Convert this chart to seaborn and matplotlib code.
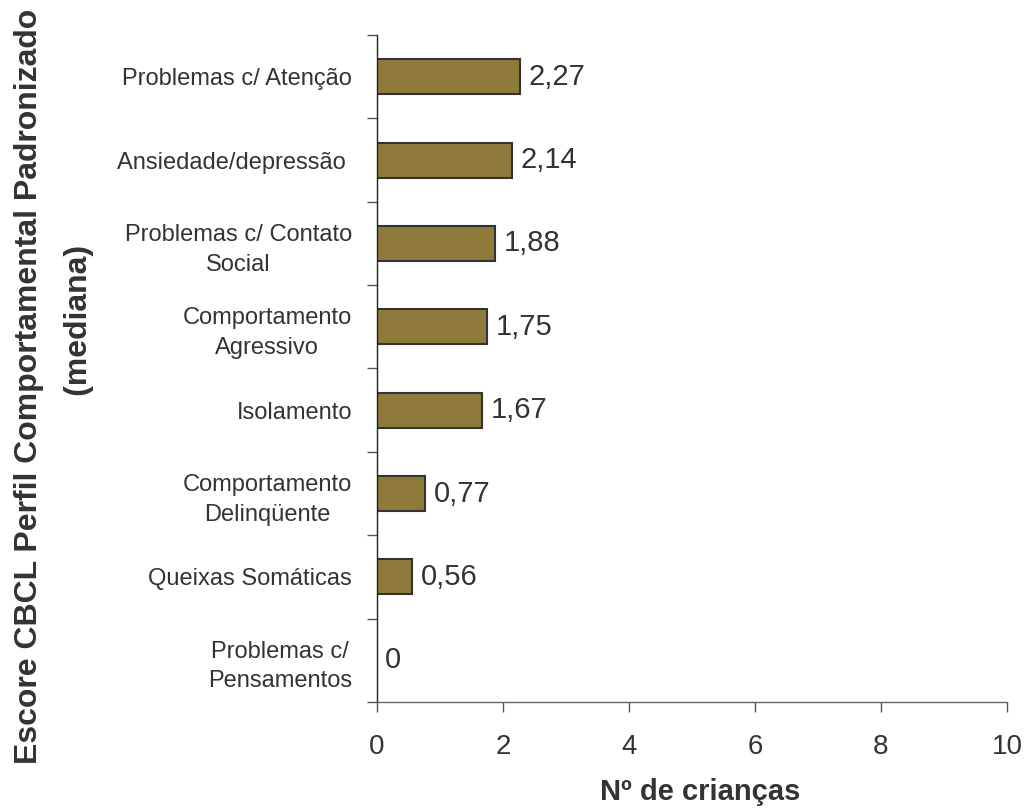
import matplotlib
matplotlib.use("Agg")
import matplotlib.pyplot as plt
import seaborn as sns
import pandas as pd
from matplotlib.ticker import FixedLocator

categorias = [
    "Problemas c/ Atenção",
    "Ansiedade/depressão ",
    "Problemas c/ Contato\nSocial",
    "Comportamento\nAgressivo",
    "Isolamento",
    "Comportamento\nDelinqüente",
    "Queixas Somáticas",
    "Problemas c/\nPensamentos",
]
valores = [2.27, 2.14, 1.88, 1.75, 1.67, 0.77, 0.56, 0]
xticks = [0, 2, 4, 6, 8, 10]
rotulos = ["2,27", "2,14", "1,88", "1,75", "1,67", "0,77", "0,56", "0"]

sns.set_theme(style="ticks")
plt.rcParams['font.family'] = ['Liberation Sans', 'DejaVu Sans']
txt = "#333333"

fig = plt.figure(figsize=(10.27, 8.08), dpi=100)
ax = fig.add_axes([0.367, 0.1312, 0.6135, 0.8255])

df = pd.DataFrame({"categoria": categorias, "valor": valores})
sns.barplot(data=df, x="valor", y="categoria", orient="h", color="#8E7B3B",
            saturation=1, edgecolor="#333333", linewidth=1.5, width=0.42, ax=ax)

ax.bar_label(ax.containers[0], labels=rotulos, padding=6, fontsize=21, color=txt)

ax.set_xlim(0, 10)
ax.set_xticks(xticks)
ax.set_xticklabels([str(t) for t in xticks])
ax.set_ylim(len(categorias) - 0.5, -0.5)
ax.yaxis.set_minor_locator(FixedLocator([i - 0.5 for i in range(len(categorias) + 1)]))
ax.tick_params(axis="y", which="major", length=0, pad=18, labelsize=17, labelcolor=txt)
ax.tick_params(axis="y", which="minor", length=7, width=1, color="#555555", direction="out")
ax.tick_params(axis="x", which="major", length=7, width=1, color="#555555", pad=16,
               labelsize=20, labelcolor=txt)
for lab in ax.get_yticklabels():
    lab.set_multialignment("center")
    lab.set_linespacing(1.45)

sns.despine(ax=ax)
ax.spines["left"].set_color("#222222")
ax.spines["bottom"].set_color("#666666")
ax.spines["left"].set_linewidth(1)
ax.spines["bottom"].set_linewidth(1)

ax.set_xlabel("Nº de crianças", fontsize=21, fontweight="bold", color=txt)
ax.xaxis.set_label_coords(0.513, -0.114)
ax.set_ylabel("Escore CBCL Perfil Comportamental Padronizado\n" + " " * 15 + "(mediana)",
              fontsize=23, fontweight="bold", color=txt, linespacing=1.85)
ax.yaxis.set_label_coords(-0.449, 0.473)

fig.savefig("out.png", dpi=100)
